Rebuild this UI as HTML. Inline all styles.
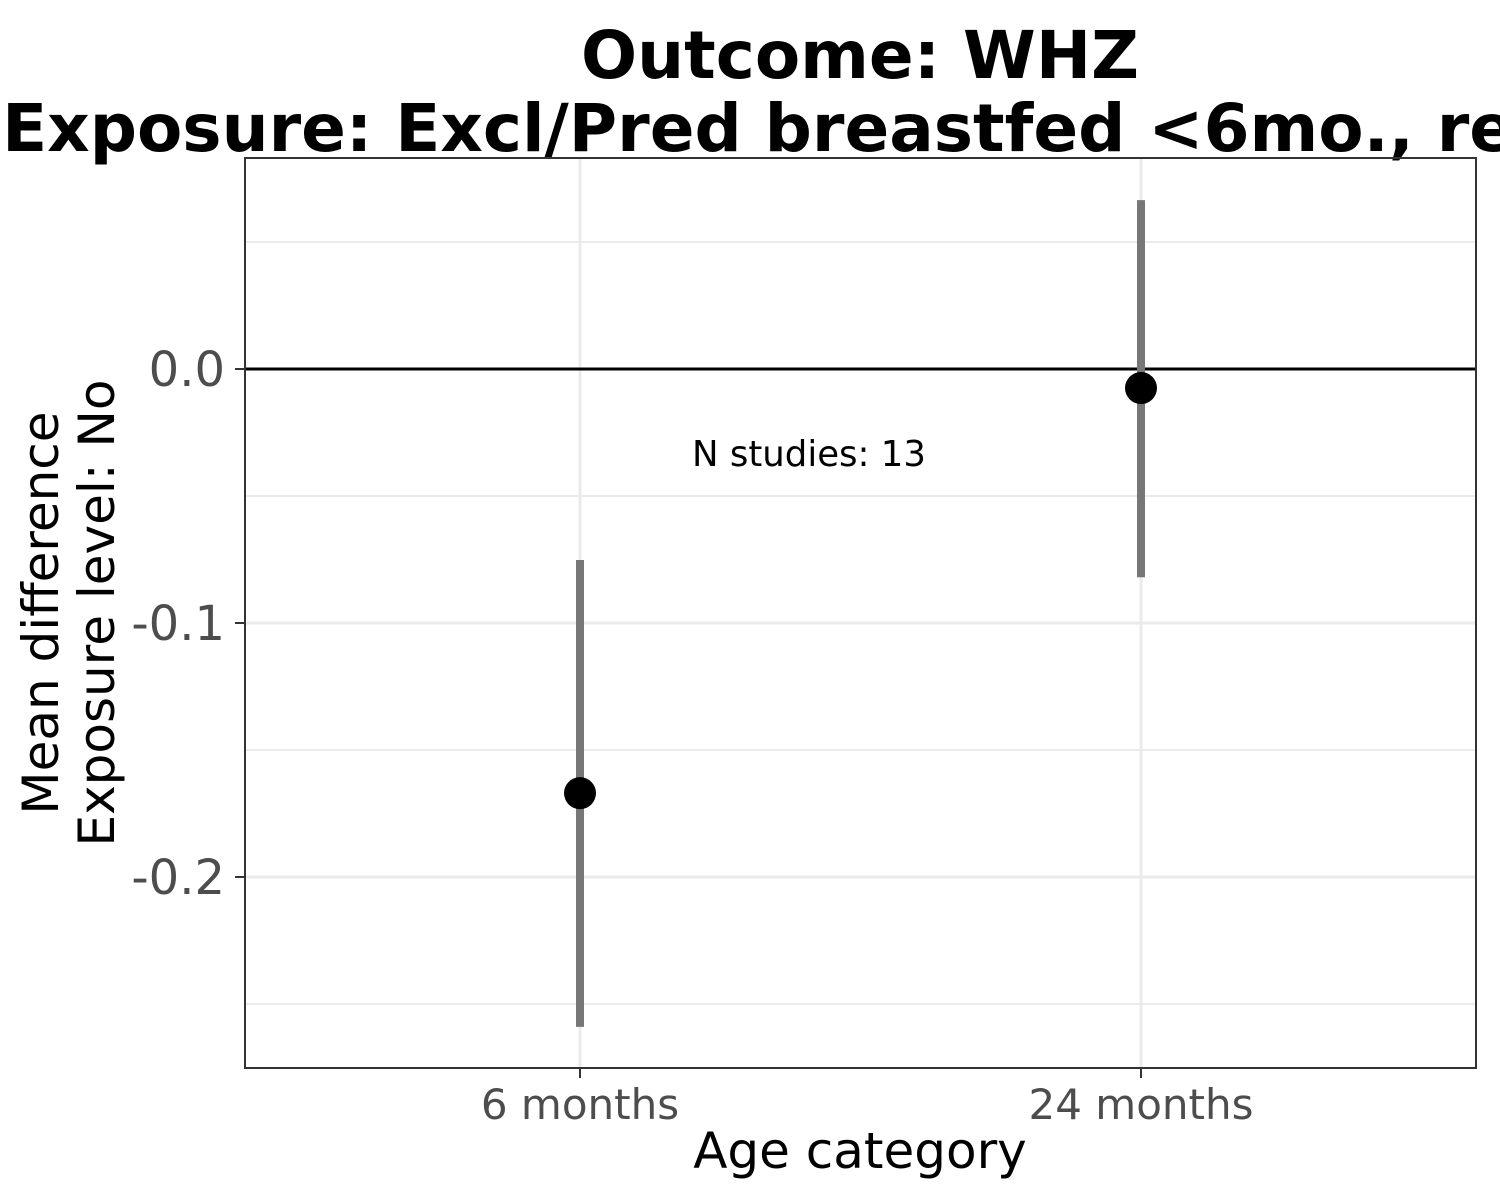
<!DOCTYPE html>
<html><head><meta charset="utf-8"><style>
html,body{margin:0;padding:0;background:#fff;}
svg{display:block;font-family:"DejaVu Sans","Liberation Sans",sans-serif;}
</style></head><body>
<svg id="chart" width="1500" height="1200" viewBox="0 0 1500 1200">
<rect x="0" y="0" width="1500" height="1200" fill="#fff"/>
<text x="860" y="78" text-anchor="middle" font-size="66" font-weight="bold">Outcome: WHZ</text>
<text x="860" y="151" text-anchor="middle" font-size="66" font-weight="bold">Exposure: Excl/Pred breastfed &lt;6mo., ref: Yes</text>
<g id="grid"></g>
<g id="marks"></g>
<g id="axes"></g>
<text x="860" y="1168" text-anchor="middle" font-size="50">Age category</text>
<text transform="translate(58,613) rotate(-90)" text-anchor="middle" font-size="50">Mean difference</text>
<text transform="translate(114,613) rotate(-90)" text-anchor="middle" font-size="50">Exposure level: No</text>
</svg>
<script>
const categories = ["6 months", "24 months"];
const estimates = [-0.167, -0.0075];
const ciLower = [-0.259, -0.082];
const ciUpper = [-0.0752, 0.0665];
const yTicks = [0.0, -0.1, -0.2];
const yTickLabels = ["0.0", "-0.1", "-0.2"];
const yMinor = [0.05, -0.05, -0.15, -0.25];
const annotation = "N studies: 13";

const NS = "http://www.w3.org/2000/svg";
const L = 245, R = 1476, T = 158, B = 1068;
function yScale(v){ return 369 - v * 2540; }
function xScale(i){ return 580 + i * 561; }
function mk(tag, attrs, parent){
  const e = document.createElementNS(NS, tag);
  for (const k in attrs) e.setAttribute(k, attrs[k]);
  parent.appendChild(e); return e;
}
const grid = document.getElementById("grid");
const marks = document.getElementById("marks");
const axes = document.getElementById("axes");
yMinor.forEach(v => {
  const l = mk("line", {x1:L, x2:R, y1:yScale(v), y2:yScale(v), stroke:"#ebebeb", "stroke-width":2}, grid);
  
  
});
yTicks.forEach((v,i) => {
  const y = yScale(v);
  const l = mk("line", {x1:L, x2:R, y1:y, y2:y, stroke:"#ebebeb", "stroke-width":3}, grid);
  
  
  const t = mk("line", {x1:L-10, x2:L, y1:y, y2:y, stroke:"#333", "stroke-width":2}, axes);
  
  
  const tx = mk("text", {x:L-20, y:y+17, "text-anchor":"end", "font-size":48, fill:"#4d4d4d"}, axes);
  tx.textContent = yTickLabels[i];
  
  
});
categories.forEach((c,i) => {
  const x = xScale(i);
  const l = mk("line", {x1:x, x2:x, y1:T, y2:B, stroke:"#ebebeb", "stroke-width":3}, grid);
  
  
  const t = mk("line", {x1:x, x2:x, y1:B, y2:B+10, stroke:"#333", "stroke-width":2}, axes);
  
  
  const tx = mk("text", {x:x, y:B+51, "text-anchor":"middle", "font-size":42, fill:"#4d4d4d"}, axes);
  tx.textContent = c;
  
  
});
const zl = mk("line", {x1:L, x2:R, y1:yScale(0), y2:yScale(0), stroke:"#000", "stroke-width":3}, marks);


categories.forEach((c,i) => {
  const x = xScale(i);
  const e = mk("line", {x1:x, x2:x, y1:yScale(ciUpper[i]), y2:yScale(ciLower[i]), stroke:"#777", "stroke-width":8}, marks);
  
  
  const p = mk("circle", {cx:x, cy:yScale(estimates[i]), r:16, fill:"#000"}, marks);
  
  
});
const an = mk("text", {x:809, y:466, "text-anchor":"middle", "font-size":35.5, fill:"#000"}, marks);
an.textContent = annotation;


const fr = mk("rect", {x:L, y:T, width:R-L, height:B-T, fill:"none", stroke:"#333", "stroke-width":2}, axes);


</script>
</body></html>
